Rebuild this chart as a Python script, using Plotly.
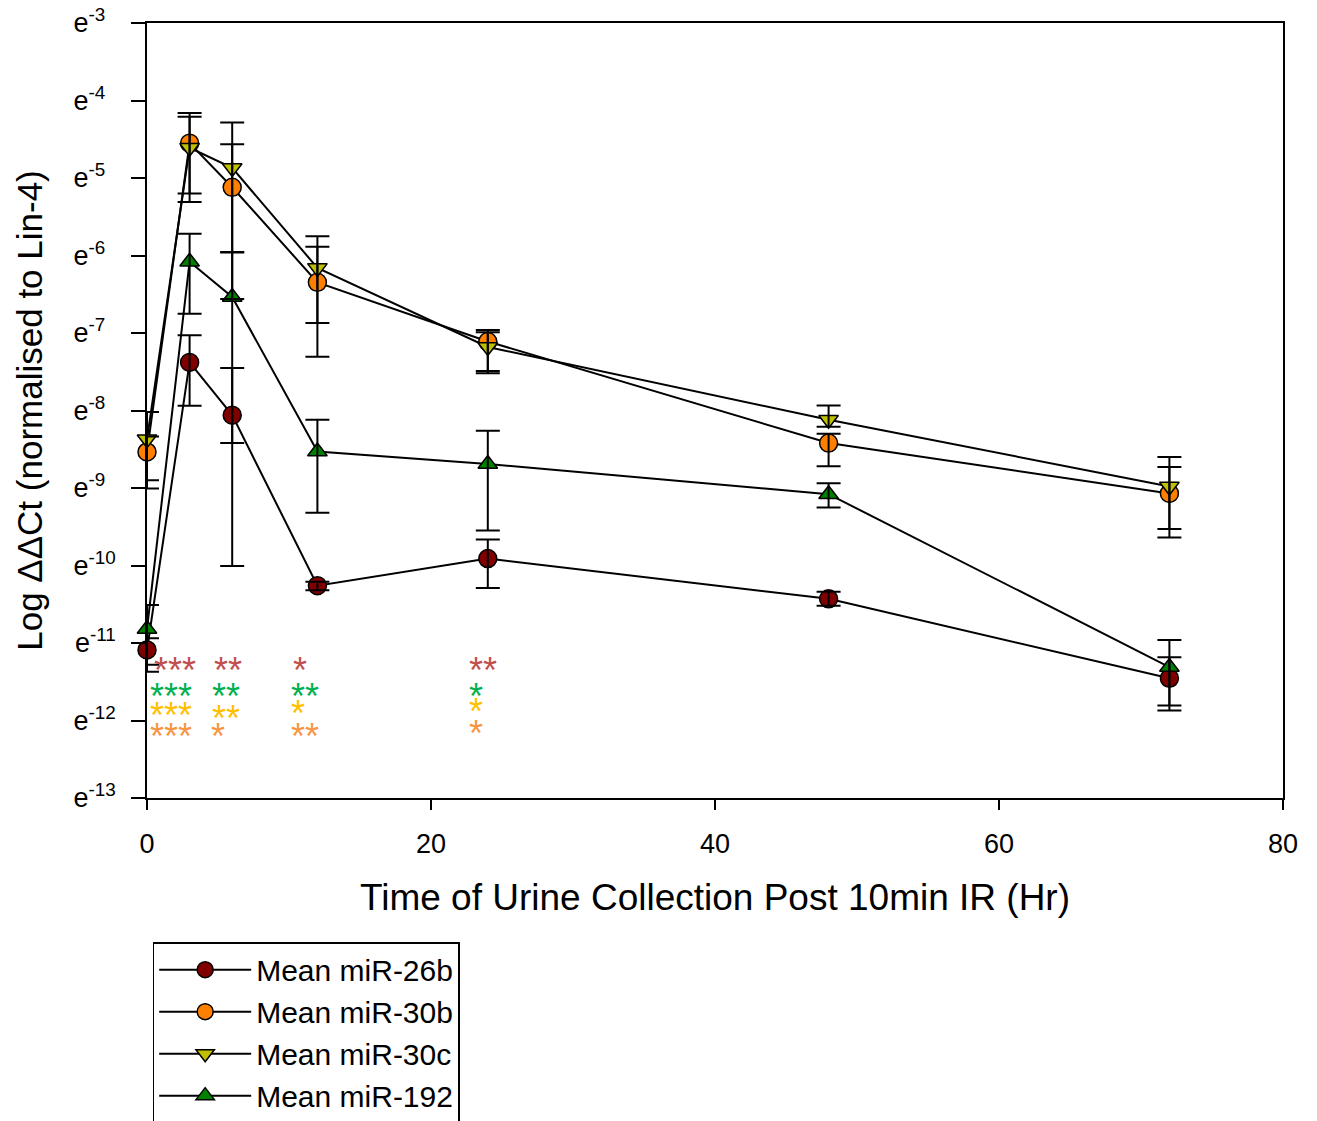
import plotly.graph_objects as go

# ---- data (values in natural-log units, i.e. exponent of e) ----
hours = [0, 3, 6, 12, 24, 48, 72]

series_names = ["Mean miR-26b", "Mean miR-30b", "Mean miR-30c", "Mean miR-192"]

mir26b = [-11.09, -7.38, -8.06, -10.26, -9.91, -10.43, -11.455]
mir26b_up = [0.15, 0.35, 0.61, 0.05, 0.245, 0.09, 0.27]
mir26b_dn = [0.28, 0.56, 0.36, 0.06, 0.38, 0.09, 0.35]

mir30b = [-8.535, -4.55, -5.12, -6.346, -7.11, -8.42, -9.07]
mir30b_up = [0.2, 0.39, 0.555, 0.46, 0.15, 0.12, 0.34]
mir30b_dn = [0.47, 0.76, 0.84, 0.96, 0.41, 0.30, 0.57]

mir30c = [-8.37, -4.61, -4.87, -6.16, -7.18, -8.12, -8.98]
mir30c_up = [0.35, 0.40, 0.585, 0.41, 0.19, 0.185, 0.38]
mir30c_dn = [0.53, 0.59, 1.69, 0.71, 0.31, 0.09, 0.55]

mir192 = [-10.82, -6.08, -6.535, -8.53, -8.69, -9.08, -11.31]
mir192_up = [0.31, 0.36, 0.58, 0.41, 0.43, 0.14, 0.35]
mir192_dn = [0.46, 0.67, 3.47, 0.79, 0.86, 0.17, 0.56]

ytick_exps = [-13, -12, -11, -10, -9, -8, -7, -6, -5, -4, -3]
# labels are left-aligned in the original: pad single-digit exponents
ytick_text = [f"e<sup>{e}" + ("" if e <= -10 else "&nbsp;&nbsp;") + "</sup>"
              for e in ytick_exps]
xtick_vals = [0, 20, 40, 60, 80]

# significance asterisks: (hour, log-level, text, colour)
sig_marks = [
    (1.97, -11.36, "***", "#C0504D"), (5.67, -11.36, "**", "#C0504D"),
    (10.77, -11.36, "*", "#C0504D"), (23.66, -11.36, "**", "#C0504D"),
    (1.69, -11.69, "***", "#00B050"), (5.53, -11.69, "**", "#00B050"),
    (11.16, -11.69, "**", "#00B050"), (23.2, -11.69, "*", "#00B050"),
    (1.69, -11.94, "***", "#FFC000"), (5.53, -11.98, "**", "#FFC000"),
    (10.63, -11.91, "*", "#FFC000"), (23.2, -11.88, "*", "#FFC000"),
    (1.69, -12.21, "***", "#F79646"), (5.0, -12.21, "*", "#F79646"),
    (11.13, -12.21, "**", "#F79646"), (23.17, -12.17, "*", "#F79646"),
]

colors = ["#800000", "#FF8000", "#C0C000", "#008000"]
symbols = ["circle", "circle", "triangle-down", "triangle-up"]
sizes = [18, 18, 17, 17]
means = [mir26b, mir30b, mir30c, mir192]
ups = [mir26b_up, mir30b_up, mir30c_up, mir192_up]
dns = [mir26b_dn, mir30b_dn, mir30c_dn, mir192_dn]

FONT = "Liberation Sans, Arial, Helvetica, sans-serif"

fig = go.Figure()
for name, m, c, s, sz in zip(series_names, means, colors, symbols, sizes):
    fig.add_trace(go.Scatter(
        x=hours, y=m, name=name, mode="lines+markers",
        line=dict(color="black", width=2),
        marker=dict(symbol=s, size=sz, color=c, line=dict(color="black", width=1.5)),
        cliponaxis=False,
    ))
# error bars drawn on top of markers
for m, u, d in zip(means, ups, dns):
    fig.add_trace(go.Scatter(
        x=hours, y=m, mode="markers", showlegend=False, hoverinfo="skip",
        marker=dict(size=2, opacity=0),
        error_y=dict(type="data", symmetric=False, array=u, arrayminus=d,
                     color="black", thickness=2, width=12),
        cliponaxis=False,
    ))

for hx, ly, txt, col in sig_marks:
    fig.add_annotation(x=hx, y=ly, text=txt, showarrow=False,
                       font=dict(family=FONT, size=36, color=col),
                       xanchor="center", yanchor="middle")

fig.update_layout(
    width=1317, height=1121,
    margin=dict(l=147, r=34, t=23, b=323, autoexpand=False),
    plot_bgcolor="white", paper_bgcolor="white",
    font=dict(family=FONT, color="black"),
    showlegend=True,
    legend=dict(x=0.005, y=-0.186, xanchor="left", yanchor="top",
                bordercolor="black", borderwidth=1.5, bgcolor="white",
                font=dict(family=FONT, size=30, color="black"),
                itemwidth=92, tracegroupgap=0),
    xaxis=dict(range=[0, 80], tickvals=xtick_vals, ticks="outside", ticklen=10,
               tickwidth=1.5, tickcolor="black", showline=True, linecolor="black",
               linewidth=1.5, mirror=True, showgrid=False, zeroline=False,
               tickfont=dict(family=FONT, size=27), ticklabelstandoff=11,
               title=dict(text="Time of Urine Collection Post 10min IR (Hr)",
                          font=dict(family=FONT, size=37), standoff=26)),
    yaxis=dict(range=[-13, -3], tickvals=ytick_exps, ticktext=ytick_text,
               ticks="outside", ticklen=14, tickwidth=1.5, tickcolor="black",
               showline=True, linecolor="black", linewidth=1.5, mirror=True,
               showgrid=False, zeroline=False,
               tickfont=dict(family=FONT, size=27), ticklabelstandoff=10,
               title=dict(text="Log ΔΔCt (normalised to Lin-4)",
                          font=dict(family=FONT, size=35), standoff=20)),
)

fig.write_html("out.html")
